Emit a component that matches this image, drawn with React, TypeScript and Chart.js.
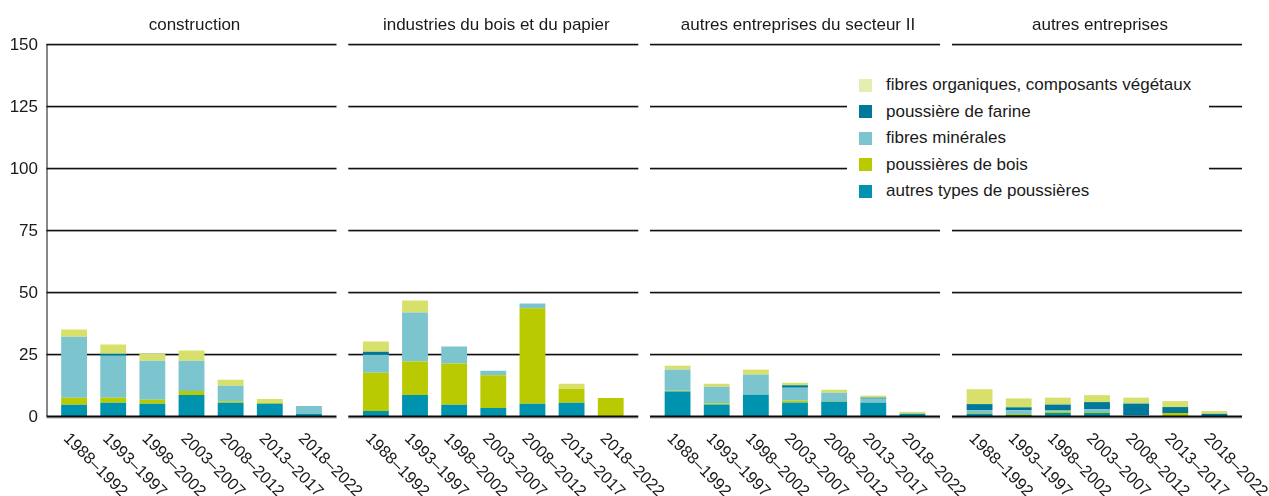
import React, { useEffect, useRef } from "react";
import { Chart, registerables } from "chart.js";
Chart.register(...registerables);

const periods = ["1988–1992", "1993–1997", "1998–2002", "2003–2007", "2008–2012", "2013–2017", "2018–2022"];
const yTicks = [0, 25, 50, 75, 100, 125, 150];
const panelTitles = ["construction", "industries du bois et du papier", "autres entreprises du secteur II", "autres entreprises"];
const seriesNames = [
  "autres types de poussières",
  "poussières de bois",
  "fibres minérales",
  "poussière de farine",
  "fibres organiques, composants végétaux",
];
const seriesColors = ["#0093AF", "#B9CA00", "#7CC5CF", "#00789A", "#D6E06A"];
const legendColors = ["#0093AF", "#B9CA00", "#7CC5CF", "#00789A", "#E6EDB0"];

// construction
const constructionAutres = [4.5, 5.3, 4.9, 8.5, 5.3, 4.9, 0.8];
const constructionBois = [2.9, 2.1, 1.7, 1.6, 0.6, 0.4, 0];
const constructionMinerales = [24.6, 16.9, 15.7, 12.2, 6.3, 0, 3.2];
const constructionFarine = [0, 0.8, 0, 0, 0, 0, 0];
const constructionOrganiques = [2.9, 3.7, 2.8, 4.1, 2.4, 1.6, 0];

// industries du bois et du papier
const boisPapierAutres = [2.0, 8.5, 4.5, 3.2, 4.9, 5.3, 0];
const boisPapierBois = [15.4, 13.5, 16.7, 13.2, 38.5, 5.6, 7.3];
const boisPapierMinerales = [7.3, 19.7, 6.8, 1.8, 2.0, 0, 0];
const boisPapierFarine = [1.2, 0, 0, 0, 0, 0, 0];
const boisPapierOrganiques = [4.1, 4.9, 0, 0, 0, 2.1, 0];

// autres entreprises du secteur II
const secteurAutres = [9.9, 4.6, 8.6, 5.4, 5.8, 5.4, 0.9];
const secteurBois = [0.3, 0.5, 0, 0.8, 0.2, 0, 0];
const secteurMinerales = [8.5, 6.7, 8.1, 5.2, 3.4, 1.6, 0];
const secteurFarine = [0, 0, 0, 1.0, 0, 0.4, 0];
const secteurOrganiques = [1.6, 1.2, 2.0, 1.0, 1.2, 0.8, 0.8];

// autres entreprises
const autresEntAutres = [0.9, 0.4, 1.2, 1.2, 0, 0, 0];
const autresEntBois = [0.3, 0.4, 0.6, 0.4, 0, 1.2, 0];
const autresEntMinerales = [1.2, 1.5, 0.4, 1.2, 0.3, 0, 0];
const autresEntFarine = [2.4, 1.2, 2.4, 2.8, 4.7, 2.4, 0.9];
const autresEntOrganiques = [6.0, 3.6, 2.8, 2.8, 2.4, 2.4, 1.1];

const panelSeries = [
  [constructionAutres, constructionBois, constructionMinerales, constructionFarine, constructionOrganiques],
  [boisPapierAutres, boisPapierBois, boisPapierMinerales, boisPapierFarine, boisPapierOrganiques],
  [secteurAutres, secteurBois, secteurMinerales, secteurFarine, secteurOrganiques],
  [autresEntAutres, autresEntBois, autresEntMinerales, autresEntFarine, autresEntOrganiques],
];

const W = 1269;
const H = 496;
const FONT = '"Liberation Sans", Arial, Helvetica, sans-serif';
const gridStarts = [46.5, 348.3, 650, 952];
const gridWidth = 290;
const inset = 8;
const plotTop = 44;
const plotBottom = 416;

function makePlugin(p: number) {
  const gs = gridStarts[p];
  const ge = gs + gridWidth;
  return {
    id: "panelDecor" + p,
    beforeDatasetsDraw(chart: any) {
      const ctx = chart.ctx as CanvasRenderingContext2D;
      const y = chart.scales.y;
      ctx.save();
      // grid lines
      yTicks.forEach((t) => {
        if (t === 0) return;
        const py = Math.round(y.getPixelForValue(t)) + 0.5;
        ctx.strokeStyle = "#d0d0d0";
        ctx.lineWidth = 1;
        ctx.beginPath();
        ctx.moveTo(gs, py + 1);
        ctx.lineTo(ge, py + 1);
        ctx.stroke();
        ctx.strokeStyle = "#111";
        ctx.lineWidth = 1.3;
        ctx.beginPath();
        ctx.moveTo(gs, py);
        ctx.lineTo(ge, py);
        ctx.stroke();
      });
      // title
      ctx.fillStyle = "#1a1a1a";
      ctx.font = "17px " + FONT;
      ctx.textAlign = "center";
      ctx.textBaseline = "middle";
      ctx.fillText(panelTitles[p], (gs + ge) / 2 + 3, 25);
      if (p === 0) {
        ctx.textAlign = "right";
        yTicks.forEach((t) => {
          const py = y.getPixelForValue(t);
          ctx.fillText(String(t), 38, py + 1);
        });
        ctx.strokeStyle = "#111";
        ctx.lineWidth = 1;
        ctx.beginPath();
        ctx.moveTo(gs + 0.5, y.getPixelForValue(150));
        ctx.lineTo(gs + 0.5, y.getPixelForValue(0));
        ctx.stroke();
      }
      ctx.restore();
    },
    afterDatasetsDraw(chart: any) {
      const ctx = chart.ctx as CanvasRenderingContext2D;
      const x = chart.scales.x;
      const y = chart.scales.y;
      ctx.save();
      const py = y.getPixelForValue(0);
      ctx.strokeStyle = "#aaa";
      ctx.lineWidth = 1;
      ctx.beginPath();
      ctx.moveTo(gs, py + 2);
      ctx.lineTo(ge, py + 2);
      ctx.stroke();
      ctx.strokeStyle = "#0a0a0a";
      ctx.lineWidth = 2;
      ctx.beginPath();
      ctx.moveTo(gs, py + 0.5);
      ctx.lineTo(ge, py + 0.5);
      ctx.stroke();
      ctx.fillStyle = "#1a1a1a";
      ctx.font = "16.5px " + FONT;
      ctx.textAlign = "left";
      ctx.textBaseline = "middle";
      periods.forEach((lab, i) => {
        const px = x.getPixelForValue(i);
        ctx.save();
        ctx.translate(px - 8, py + 20);
        ctx.rotate(Math.PI / 4);
        ctx.fillText(lab, 0, 0);
        ctx.restore();
      });
      ctx.restore();
    },
  };
}

function Panel({ p }: { p: number }) {
  const ref = useRef<HTMLCanvasElement>(null);
  useEffect(() => {
    const gs = gridStarts[p];
    const chart = new Chart(ref.current as HTMLCanvasElement, {
      type: "bar",
      data: {
        labels: periods,
        datasets: seriesNames.map((n, i) => ({
          label: n,
          data: panelSeries[p][i],
          backgroundColor: seriesColors[i],
          borderWidth: 0,
          barPercentage: 0.66,
          categoryPercentage: 1,
        })),
      },
      options: {
        responsive: false,
        maintainAspectRatio: false,
        animation: false,
        devicePixelRatio: 1,
        layout: {
          padding: {
            left: gs + inset,
            right: W - (gs + gridWidth - inset),
            top: plotTop,
            bottom: H - plotBottom,
          },
        },
        plugins: { legend: { display: false }, tooltip: { enabled: false } },
        scales: {
          x: { stacked: true, display: false },
          y: { stacked: true, display: false, min: 0, max: 150 },
        },
      },
      plugins: [makePlugin(p)],
    } as any);
    return () => chart.destroy();
  }, [p]);
  return (
    <canvas
      ref={ref}
      width={W}
      height={H}
      style={{ position: "absolute", left: 0, top: 0, width: W, height: H }}
    />
  );
}

export default function App() {
  const legendOrder = [4, 3, 2, 1, 0];
  return (
    <div style={{ position: "fixed", left: 0, top: 0, width: W, height: H, background: "#fff", overflow: "hidden" }}>
      {[0, 1, 2, 3].map((p) => (
        <Panel key={p} p={p} />
      ))}
      <div
        style={{
          position: "absolute",
          left: 847,
          top: 68,
          width: 362,
          height: 138,
          background: "#fff",
          fontFamily: FONT,
          fontSize: 17,
          color: "#1a1a1a",
        }}
      >
        {legendOrder.map((s, k) => (
          <div key={s} style={{ position: "absolute", left: 0, top: 17 + k * 26.5 - 10, height: 20, width: 362 }}>
            <div
              style={{
                position: "absolute",
                left: 12,
                top: 3.5,
                width: 13,
                height: 13,
                background: legendColors[s],
              }}
            />
            <div style={{ position: "absolute", left: 39, top: 0, lineHeight: "20px", whiteSpace: "nowrap" }}>
              {seriesNames[s]}
            </div>
          </div>
        ))}
      </div>
    </div>
  );
}
